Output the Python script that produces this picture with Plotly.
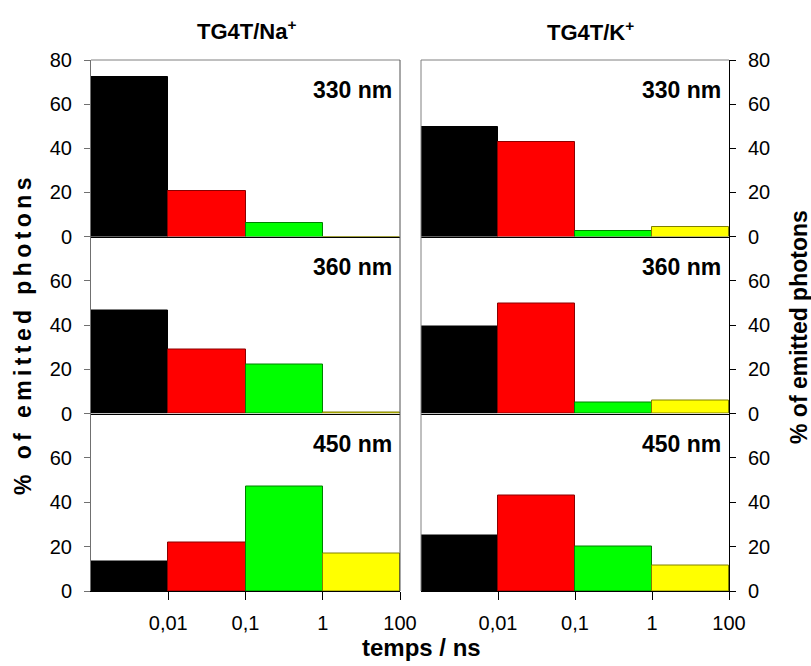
import plotly.graph_objects as go

# ---- data ----
bins = ["<0,01", "0,01-0,1", "0,1-1", ">1"]
edge_labels = ["0,01", "0,1", "1", "100"]
wavelengths = ["330 nm", "360 nm", "450 nm"]
column_titles = ["TG4T/Na<sup>+</sup>", "TG4T/K<sup>+</sup>"]

na_330 = [72.5, 20.8, 6.1, 0.0]
na_360 = [46.7, 29.1, 22.2, 0.5]
na_450 = [13.5, 22.0, 47.2, 16.8]

k_330 = [49.6, 42.7, 2.4, 4.5]
k_360 = [39.4, 49.6, 5.1, 5.8]
k_450 = [24.8, 43.0, 20.2, 11.3]

y_ticks = [0, 20, 40, 60, 80]

# ---- styling ----
bar_colors = ["#000000", "#ff0000", "#00ff00", "#ffff00"]
bar_edges = ["#000000", "#8b0000", "#008000", "#808000"]
FONT = "Liberation Sans, Arial, sans-serif"
W, H = 811, 666

def px_x(v):
    return v / W

def px_y(v):
    return 1 - v / H

col_dom = [[px_x(91), px_x(400)], [px_x(421), px_x(729)]]
row_edges = [60, 236.5, 413.5, 591]
row_dom = [[px_y(row_edges[r + 1]), px_y(row_edges[r])] for r in range(3)]

data = [[na_330, k_330], [na_360, k_360], [na_450, k_450]]

fig = go.Figure()
positions = [i + 0.5 for i in range(len(bins))]
edges_pos = [i + 1 for i in range(len(edge_labels))]

annotations = []
shapes = []
for r in range(3):
    for c in range(2):
        i = r * 2 + c + 1
        xs = "" if i == 1 else str(i)
        fig.add_trace(go.Bar(
            x=positions, y=data[r][c], width=1,
            marker=dict(color=bar_colors, line=dict(color=bar_edges, width=1)),
            customdata=bins, hovertemplate="%{customdata}: %{y}<extra></extra>",
            xaxis="x" + xs, yaxis="y" + xs, showlegend=False,
        ))
        bottom = (r == 2)
        xa = dict(
            domain=col_dom[c], anchor="y" + xs, range=[0, len(bins)],
            showline=True, linecolor="#000000", linewidth=1,
            showgrid=False, zeroline=False, automargin=False,
            showticklabels=bottom,
            fixedrange=True,
        )
        if bottom:
            xa.update(tickmode="array", tickvals=edges_pos, ticktext=edge_labels,
                      ticks="outside", ticklen=8, tickcolor="#000000",
                      ticklabelstandoff=6,
                      tickfont=dict(family=FONT, size=20, color="#000000"))
        else:
            xa.update(ticks="")
        fig.layout["xaxis" + xs] = xa
        tv = y_ticks if r == 0 else y_ticks[:-1]
        axcol = "#707070" if c == 0 else "#000000"
        fig.layout["yaxis" + xs] = dict(
            domain=row_dom[r], anchor="x" + xs, range=[0, 80],
            side="left" if c == 0 else "right",
            showline=True, linecolor=axcol, linewidth=1,
            showgrid=False, zeroline=False, automargin=False,
            tickmode="array", tickvals=tv,
            ticks="outside", ticklen=6, tickcolor=axcol,
            ticklabelstandoff=8,
            tickfont=dict(family=FONT, size=20, color="#000000"),
            fixedrange=True,
        )
        annotations.append(dict(
            text="<b>%s</b>" % wavelengths[r],
            xref="x" + xs + " domain", yref="y" + xs + " domain",
            x=1, y=1, xanchor="right", yanchor="middle",
            xshift=-6, yshift=-30, showarrow=False,
            font=dict(family=FONT, size=23, color="#000000"),
        ))

# frame lines (plot-area borders)
top = px_y(row_edges[0])
bot = px_y(row_edges[-1])
for c in range(2):
    shapes.append(dict(type="line", xref="paper", yref="paper",
                       x0=col_dom[c][0], x1=col_dom[c][1], y0=top, y1=top,
                       line=dict(color="#808080", width=1)))
shapes.append(dict(type="line", xref="paper", yref="paper",
                   x0=col_dom[0][1], x1=col_dom[0][1], y0=bot, y1=top,
                   line=dict(color="#505050", width=1)))
shapes.append(dict(type="line", xref="paper", yref="paper",
                   x0=col_dom[1][0], x1=col_dom[1][0], y0=bot, y1=top,
                   line=dict(color="#808080", width=1)))

# column titles
annotations.append(dict(text="<b>%s</b>" % column_titles[0], xref="paper", yref="paper",
                        x=px_x(246), y=px_y(30), xanchor="center", yanchor="middle",
                        showarrow=False, font=dict(family=FONT, size=22, color="#000000")))
annotations.append(dict(text="<b>%s</b>" % column_titles[1], xref="paper", yref="paper",
                        x=px_x(590), y=px_y(31), xanchor="center", yanchor="middle",
                        showarrow=False, font=dict(family=FONT, size=22, color="#000000")))
# axis titles
annotations.append(dict(text="<b>temps / ns</b>", xref="paper", yref="paper",
                        x=px_x(421), y=px_y(647), xanchor="center", yanchor="middle",
                        showarrow=False, font=dict(family=FONT, size=24, color="#000000")))
annotations.append(dict(text='<b><span style="letter-spacing:4.4px">% of emitted photons</span></b>',
                        xref="paper", yref="paper",
                        x=px_x(23), y=px_y(334), xanchor="center", yanchor="middle",
                        textangle=-90, showarrow=False,
                        font=dict(family=FONT, size=23, color="#000000")))
annotations.append(dict(text="<b>% of emitted photons</b>", xref="paper", yref="paper",
                        x=px_x(799), y=px_y(327), xanchor="center", yanchor="middle",
                        textangle=-90, showarrow=False,
                        font=dict(family=FONT, size=23, color="#000000")))

fig.update_layout(
    width=W, height=H, margin=dict(l=0, r=0, t=0, b=0, autoexpand=False),
    paper_bgcolor="#ffffff", plot_bgcolor="#ffffff",
    bargap=0, showlegend=False,
    annotations=annotations, shapes=shapes,
)

fig.write_html(
    "out.html",
    config={"displayModeBar": False, "displaylogo": False},
    post_script="document.body.style.margin='0px';"
                "document.documentElement.style.overflow='hidden';"
                "document.body.style.overflow='hidden';",
)
